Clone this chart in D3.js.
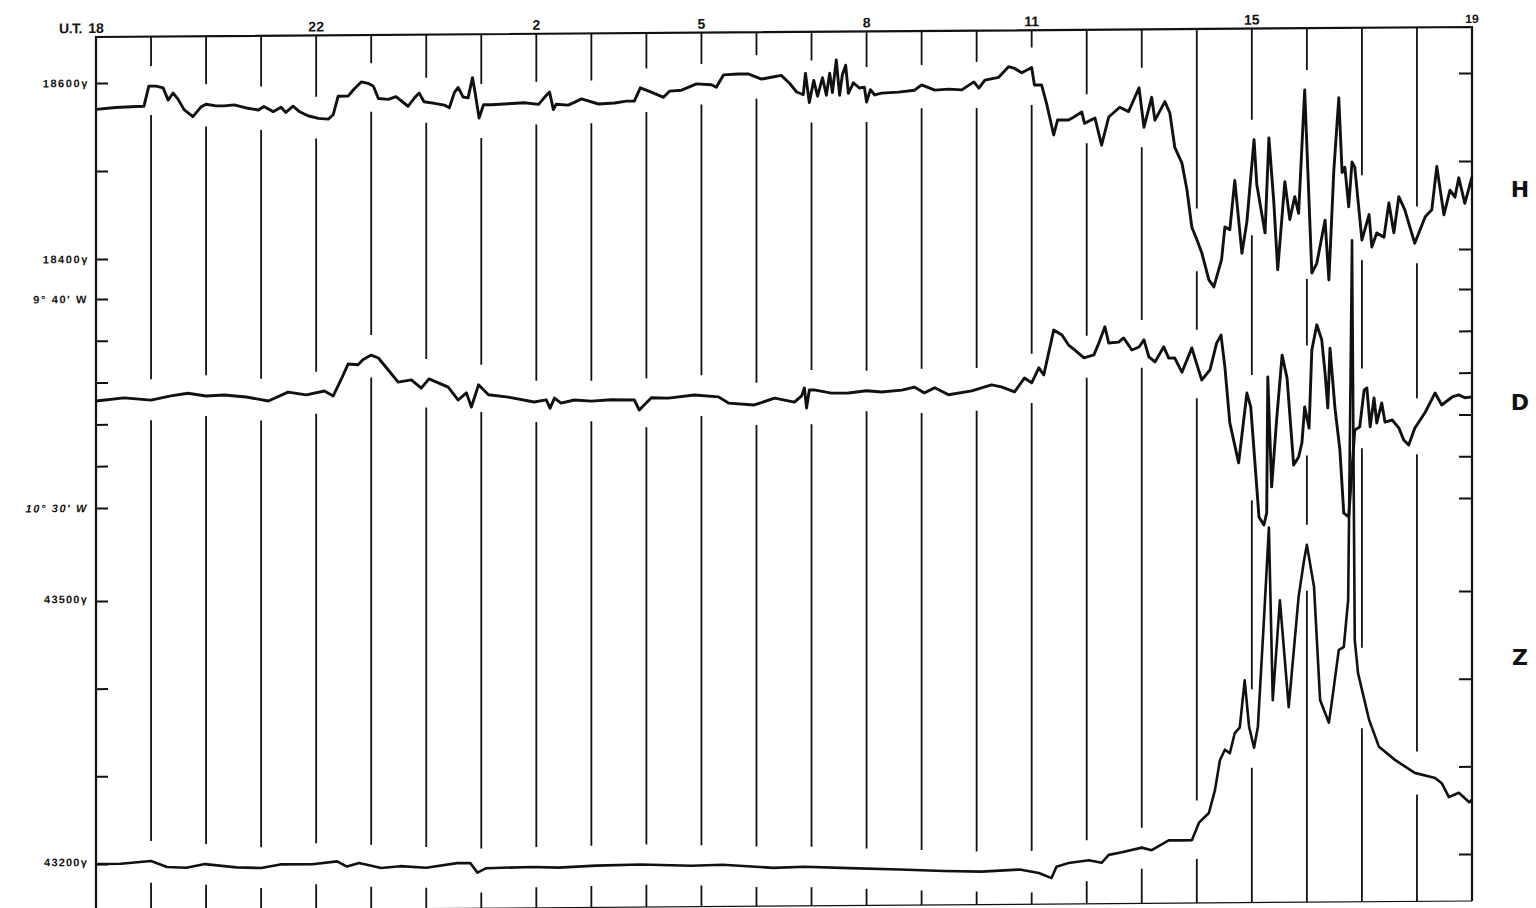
<!DOCTYPE html>
<html><head><meta charset="utf-8">
<script src="https://cdn.jsdelivr.net/npm/d3@7"></script>
<style>body{margin:0;background:#fff}svg{display:block}</style>
</head><body>
<svg id="c" width="1536" height="908"></svg>
<script>
// ---- data (hours after 18 U.T.) ----
const hourLabelPos = [0, 4, 8, 11, 14, 17, 21, 25];
const hourLabelText = ["18", "22", "2", "5", "8", "11", "15", "19"];
const hourMarks = d3.range(1, 25);

const hTicks = [18600, 18500, 18400];
const hLabelVals = [18600, 18400];
const hLabelText = ["18600\u03b3", "18400\u03b3"];
const dTicks = [580, 590, 600, 610, 620, 630];           // arc-minutes (9°40' = 580')
const dLabelVals = [580, 630];
const dLabelText = ["9\u00b0 40\u2032 W", "10\u00b0 30\u2032 W"];
const zTicks = [43500, 43400, 43300, 43200];
const zLabelVals = [43500, 43200];
const zLabelText = ["43500\u03b3", "43200\u03b3"];
const componentNames = ["H", "D", "Z"];
const componentLevels = [18470, 606.6, 43427];

const hSeries = [[0.00,18570],[0.36,18572],[0.73,18573],[0.87,18573],[0.96,18596],[1.09,18596],[1.22,18594],[1.31,18580],[1.40,18588],[1.49,18581],[1.60,18569],[1.76,18561],[1.91,18572],[2.00,18575],[2.18,18573],[2.33,18573],[2.51,18574],[2.76,18570],[2.95,18568],[3.05,18572],[3.22,18566],[3.36,18571],[3.45,18565],[3.58,18572],[3.69,18566],[3.85,18561],[4.04,18558],[4.22,18557],[4.31,18562],[4.40,18583],[4.58,18583],[4.69,18591],[4.82,18599],[4.96,18597],[5.04,18594],[5.13,18580],[5.31,18579],[5.45,18582],[5.67,18571],[5.78,18580],[5.87,18586],[5.96,18576],[6.15,18574],[6.33,18572],[6.42,18569],[6.51,18586],[6.58,18592],[6.67,18581],[6.76,18580],[6.84,18603],[6.89,18585],[6.96,18557],[7.04,18572],[7.18,18572],[7.49,18573],[7.78,18574],[8.04,18572],[8.15,18580],[8.24,18586],[8.31,18566],[8.36,18572],[8.58,18571],[8.69,18574],[8.82,18578],[9.13,18572],[9.42,18573],[9.64,18575],[9.78,18575],[9.89,18590],[10.09,18585],[10.31,18579],[10.42,18586],[10.64,18587],[10.91,18594],[11.18,18593],[11.27,18590],[11.40,18604],[11.67,18605],[11.85,18605],[12.09,18599],[12.27,18601],[12.45,18603],[12.60,18594],[12.73,18584],[12.85,18581],[12.89,18605],[12.96,18572],[13.04,18597],[13.11,18579],[13.20,18600],[13.27,18580],[13.33,18605],[13.38,18583],[13.45,18620],[13.51,18580],[13.56,18603],[13.62,18614],[13.67,18582],[13.76,18594],[13.87,18588],[13.96,18589],[14.00,18572],[14.07,18586],[14.15,18580],[14.27,18582],[14.58,18583],[14.87,18585],[15.00,18591],[15.24,18585],[15.49,18586],[15.73,18585],[15.95,18594],[16.04,18587],[16.15,18596],[16.40,18599],[16.58,18611],[16.69,18609],[16.82,18604],[17.00,18610],[17.05,18590],[17.18,18590],[17.27,18569],[17.40,18533],[17.47,18550],[17.67,18550],[17.76,18553],[17.91,18559],[17.96,18546],[18.15,18552],[18.27,18521],[18.40,18553],[18.60,18564],[18.76,18559],[18.95,18586],[19.04,18541],[19.18,18575],[19.24,18549],[19.42,18570],[19.51,18557],[19.60,18518],[19.73,18500],[19.82,18470],[19.91,18427],[20.00,18413],[20.09,18398],[20.22,18367],[20.31,18359],[20.45,18390],[20.51,18427],[20.60,18424],[20.69,18480],[20.82,18397],[20.91,18433],[21.04,18526],[21.09,18475],[21.24,18420],[21.31,18528],[21.40,18454],[21.47,18378],[21.60,18478],[21.69,18435],[21.78,18461],[21.85,18442],[21.96,18582],[22.09,18374],[22.18,18385],[22.33,18434],[22.40,18366],[22.49,18491],[22.58,18573],[22.64,18488],[22.69,18494],[22.76,18449],[22.82,18500],[22.87,18494],[23.00,18411],[23.13,18440],[23.18,18403],[23.27,18419],[23.40,18414],[23.49,18453],[23.58,18419],[23.67,18460],[23.78,18445],[23.85,18430],[23.96,18407],[24.15,18437],[24.27,18445],[24.36,18494],[24.49,18439],[24.60,18467],[24.69,18459],[24.76,18481],[24.87,18452],[25.00,18482]];

const dSeries = [[0.00,604.4],[0.51,603.7],[1.00,604.3],[1.36,603.3],[1.67,602.7],[2.00,603.4],[2.33,603.2],[2.73,603.7],[3.13,604.7],[3.49,602.6],[3.82,603.3],[4.15,602.4],[4.31,603.6],[4.45,599.8],[4.58,596.0],[4.76,596.2],[4.85,595.0],[5.00,593.9],[5.13,594.6],[5.31,597.5],[5.49,600.4],[5.73,599.9],[5.91,601.9],[6.05,599.7],[6.40,601.7],[6.58,604.8],[6.73,603.1],[6.82,606.5],[6.95,601.2],[7.13,603.6],[7.49,604.2],[7.96,605.4],[8.18,604.9],[8.25,606.9],[8.33,604.5],[8.45,605.7],[8.69,605.0],[9.00,605.3],[9.36,605.0],[9.78,605.1],[9.87,607.5],[10.09,604.6],[10.40,604.7],[10.87,604.0],[11.31,604.5],[11.49,606.0],[11.96,606.5],[12.33,604.9],[12.69,605.9],[12.82,604.4],[12.87,602.5],[12.91,607.3],[12.96,603.0],[13.05,603.0],[13.36,603.8],[13.67,603.8],[14.00,603.3],[14.27,603.6],[14.64,603.2],[14.87,602.5],[15.05,603.9],[15.24,602.7],[15.49,604.4],[15.91,603.5],[16.27,602.1],[16.45,602.6],[16.69,603.8],[16.87,600.5],[17.00,601.7],[17.13,598.1],[17.22,599.8],[17.40,589.1],[17.55,590.3],[17.67,592.7],[17.78,593.9],[17.95,595.8],[18.13,595.1],[18.22,592.3],[18.33,588.4],[18.40,592.3],[18.58,592.1],[18.67,591.1],[18.82,594.0],[18.95,593.3],[19.04,591.6],[19.13,595.7],[19.24,596.9],[19.40,593.3],[19.49,596.0],[19.60,596.0],[19.73,599.4],[19.91,593.6],[19.96,595.8],[20.09,601.3],[20.24,598.9],[20.36,592.5],[20.44,590.6],[20.51,598.2],[20.60,611.6],[20.76,621.2],[20.91,604.5],[20.98,607.8],[21.13,634.2],[21.22,636.1],[21.27,633.2],[21.29,600.7],[21.36,627.0],[21.45,611.0],[21.55,595.5],[21.64,601.0],[21.76,621.8],[21.85,619.9],[21.91,616.5],[21.96,607.9],[22.04,613.0],[22.09,594.3],[22.18,588.3],[22.27,591.9],[22.33,599.8],[22.38,608.2],[22.42,593.9],[22.51,608.2],[22.60,618.3],[22.67,633.4],[22.76,634.3],[22.87,613.5],[22.96,612.8],[23.04,604.0],[23.09,603.5],[23.15,612.8],[23.22,605.9],[23.27,611.9],[23.36,607.1],[23.42,611.7],[23.55,611.2],[23.67,613.1],[23.76,616.0],[23.85,617.2],[23.96,613.2],[24.15,609.4],[24.33,604.8],[24.45,607.7],[24.64,605.8],[24.76,605.3],[24.87,606.0],[25.00,605.8]];

const zSeries = [[0.00,43200],[0.45,43200],[1.00,43203],[1.29,43196],[1.64,43195],[1.98,43199],[2.55,43195],[3.00,43194],[3.35,43198],[3.93,43198],[4.38,43201],[4.56,43195],[4.78,43199],[5.18,43193],[5.53,43195],[6.00,43193],[6.56,43198],[6.80,43198],[6.93,43187],[7.09,43192],[7.95,43193],[8.40,43192],[9.09,43194],[9.89,43195],[10.82,43193],[11.38,43194],[12.31,43190],[12.87,43191],[13.69,43189],[14.60,43187],[15.40,43185],[16.09,43184],[16.78,43186],[17.13,43182],[17.36,43176],[17.45,43189],[17.67,43193],[18.04,43196],[18.27,43193],[18.40,43202],[18.64,43205],[19.00,43210],[19.18,43207],[19.49,43218],[19.73,43218],[19.91,43218],[20.04,43238],[20.22,43249],[20.33,43275],[20.42,43309],[20.51,43321],[20.60,43317],[20.69,43340],[20.78,43346],[20.87,43400],[20.95,43347],[21.04,43323],[21.11,43347],[21.22,43469],[21.31,43574],[21.38,43377],[21.51,43491],[21.67,43369],[21.85,43495],[21.95,43537],[22.00,43554],[22.13,43506],[22.24,43377],[22.40,43351],[22.45,43373],[22.58,43434],[22.67,43437],[22.75,43491],[22.82,43901],[22.87,43445],[22.93,43407],[23.13,43354],[23.31,43323],[23.60,43308],[23.96,43293],[24.33,43287],[24.45,43281],[24.58,43265],[24.76,43270],[24.95,43259],[25.00,43262]];

// ---- layout ----
const svg = d3.select("#c");
const X0 = 96, X1 = 1472, TOP = 37, BOTTOM = 911;
const x = d3.scaleLinear().domain([0, 25]).range([X0, X1]);
const yH = d3.scaleLinear().domain([18400, 18600]).range([259, 83]);
const yD = d3.scaleLinear().domain([580, 630]).range([299, 508]);
const yZ = d3.scaleLinear().domain([43200, 43500]).range([864, 601]);
const ink = "#111";
const skew = 10 / (X1 - X0);

const g = svg.append("g").attr("transform", `matrix(1,${-skew},0,1,0,${skew * X0})`);

// frame
g.append("path")
  .attr("d", `M${X0},${BOTTOM}V${TOP}H${X1}V${BOTTOM}`)
  .attr("fill", "none").attr("stroke", ink).attr("stroke-width", 2.2);
g.append("line").attr("x1", X0).attr("x2", X1).attr("y1", BOTTOM).attr("y2", BOTTOM)
  .attr("stroke", ink).attr("stroke-width", 1.2);

// hour lines with gaps around the traces
const traces = [[hSeries, yH], [dSeries, yD], [zSeries, yZ]];
function interp(s, t) {
  const i = d3.bisector(d => d[0]).left(s, t);
  if (i <= 0) return s[0][1];
  if (i >= s.length) return s[s.length - 1][1];
  const a = s[i - 1], b = s[i];
  return a[1] + (b[1] - a[1]) * (t - a[0]) / (b[0] - a[0]);
}
const W = 0.08, M = 20;
hourMarks.forEach(t => {
  const gaps = traces.map(([s, sc]) => {
    const vals = s.filter(d => Math.abs(d[0] - t) <= W).map(d => d[1]);
    vals.push(interp(s, t - W), interp(s, t), interp(s, t + W));
    const ys = vals.map(sc);
    return [d3.min(ys) - M, d3.max(ys) + M];
  }).sort((a, b) => a[0] - b[0]);
  let cur = TOP;
  const segs = [];
  gaps.forEach(([a, b]) => { if (a > cur) segs.push([cur, a]); cur = Math.max(cur, b); });
  if (cur < BOTTOM) segs.push([cur, BOTTOM]);
  segs.forEach(([a, b]) => g.append("line")
    .attr("x1", x(t)).attr("x2", x(t)).attr("y1", a).attr("y2", b)
    .attr("stroke", ink).attr("stroke-width", 1.8));
});

// ticks via d3 axes (inward on both edges)
function axes(scale, vals) {
  const l = g.append("g").attr("transform", `translate(${X0},0)`)
    .call(d3.axisRight(scale).tickValues(vals).tickSize(12).tickFormat(""));
  const r = g.append("g").attr("transform", `translate(${X1},0)`)
    .call(d3.axisLeft(scale).tickValues(vals).tickSize(13).tickFormat(""));
  [l, r].forEach(a => {
    a.select(".domain").remove();
    a.selectAll("line").attr("stroke", ink).attr("stroke-width", 2);
  });
}
axes(yH, hTicks); axes(yD, dTicks); axes(yZ, zTicks);

// left labels
const lab = g.append("g").attr("font-family", "Liberation Sans, Arial, sans-serif")
  .attr("font-weight", "bold").attr("fill", ink).attr("text-anchor", "end");
hLabelVals.forEach((v, i) => lab.append("text").attr("x", 89).attr("y", yH(v) + 4)
  .attr("font-size", 11).attr("letter-spacing", 1.6).text(hLabelText[i]));
dLabelVals.forEach((v, i) => lab.append("text").attr("x", 88).attr("y", yD(v) + 4)
  .attr("font-size", 11).attr("letter-spacing", 1.6).attr("font-style", i ? "italic" : "normal")
  .text(dLabelText[i]));
zLabelVals.forEach((v, i) => lab.append("text").attr("x", 88).attr("y", yZ(v) + 2)
  .attr("font-size", 11).attr("letter-spacing", 1.2).text(zLabelText[i]));

// hour labels on top
const topLab = g.append("g").attr("font-family", "Liberation Sans, Arial, sans-serif")
  .attr("font-weight", "bold").attr("fill", ink).attr("font-size", 14);
hourLabelPos.forEach((t, i) => topLab.append("text").attr("x", x(t)).attr("y", TOP - 4)
  .attr("text-anchor", "middle").attr("font-size", t === 25 ? 12 : 14).text(hourLabelText[i]));
topLab.append("text").attr("x", x(0) - 14).attr("y", TOP - 4).attr("text-anchor", "end")
  .attr("letter-spacing", -0.5).text("U.T.");

// traces
const line = sc => d3.line().x(d => x(d[0])).y(d => sc(d[1]));
traces.forEach(([s, sc], i) => g.append("path").datum(s)
  .attr("d", line(sc)).attr("fill", "none").attr("stroke", ink)
  .attr("stroke-width", i === 2 ? 2.6 : 2.9).attr("stroke-linejoin", "round"));

// component letters
const names = svg.append("g").attr("font-family", "DejaVu Sans, Arial, sans-serif")
  .attr("font-weight", "bold").attr("font-size", 22).attr("fill", ink).attr("text-anchor", "middle");
[yH, yD, yZ].forEach((sc, i) =>
  names.append("text").attr("x", 1520).attr("y", sc(componentLevels[i])).text(componentNames[i]));
</script>
</body></html>
